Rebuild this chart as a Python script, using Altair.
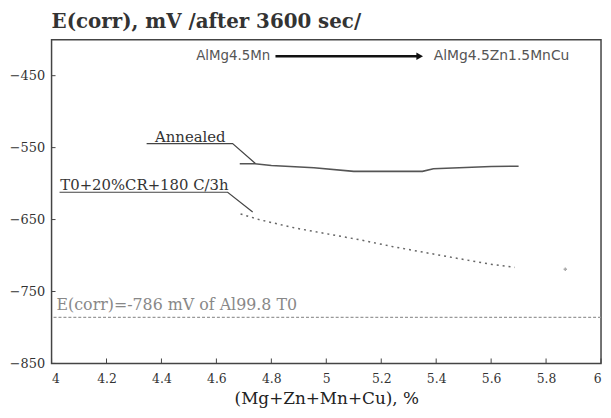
import altair as alt
import pandas as pd

# --- data ---
ann_x = [4.685, 4.74, 4.80, 4.955, 5.10, 5.35, 5.39, 5.60, 5.70]
ann_y = [-572.4, -572.4, -574.8, -577.9, -583.0, -583.0, -579.4, -576.2, -575.8]

cr_x = [4.688, 4.76, 4.883, 5.002, 5.121, 5.243, 5.362, 5.481, 5.604, 5.686]
cr_y = [-642.2, -650.5, -661.5, -669.8, -678.0, -687.7, -696.0, -704.2, -712.4, -716.5]

stray_x = [5.87]
stray_y = [-719.0]

ref_value = -786
x_ticks = [4.0, 4.2, 4.4, 4.6, 4.8, 5.0, 5.2, 5.4, 5.6, 5.8, 6.0]
y_ticks = [-450, -550, -650, -750, -850]

# label leader lines (underline + pointer), in data units
lead_group = ["a", "a", "a", "t", "t", "t"]
lead_x = [4.346, 4.659, 4.742, 4.029, 4.641, 4.732]
lead_y = [-544.5, -544.5, -572.0, -612.0, -612.0, -639.5]

lab_text = ["Annealed", "T0+20%CR+180 C/3h"]
lab_x = [4.505, 4.338]
lab_y = [-541.5, -608.5]

arrow_x = [4.815, 5.34]
arrow_y = -423
arrow_left = "AlMg4.5Mn"
arrow_right = "AlMg4.5Zn1.5MnCu"
ref_text = "E(corr)=-786 mV of Al99.8 T0"

W, H = 555, 327
SERIF = "DejaVu Serif"

xs = alt.Scale(domain=[4, 6], nice=False, zero=False)
ys = alt.Scale(domain=[-850, -400], nice=False, zero=False)

ann_df = pd.DataFrame({"x": ann_x, "y": ann_y, "i": range(len(ann_x))})
cr_df = pd.DataFrame({"x": cr_x, "y": cr_y, "i": range(len(cr_x))})
stray_df = pd.DataFrame({"x": stray_x, "y": stray_y})
lead_df = pd.DataFrame({"g": lead_group, "x": lead_x, "y": lead_y, "i": range(len(lead_x))})
lab_df = pd.DataFrame({"t": lab_text, "x": lab_x, "y": lab_y})
arrow_df = pd.DataFrame({"x": [arrow_x[0]], "x2": [arrow_x[1]], "y": [arrow_y]})
xt_df = pd.DataFrame({"x": x_ticks})
yt_df = pd.DataFrame({"y": y_ticks})

x_axis = alt.Axis(values=x_ticks, labelExpr="format(datum.value, '.1~f')", ticks=False,
                  domain=False, grid=False, labelPadding=9, labelFont=SERIF, labelFontSize=12.5,
                  labelColor="#333", title="(Mg+Zn+Mn+Cu), %", titleFont=SERIF, titleFontSize=17,
                  titleFontWeight="normal", titleColor="#222", titleBaseline="alphabetic",
                  titleY=40)
y_axis = alt.Axis(values=y_ticks, ticks=False, domain=False, grid=False, labelPadding=7,
                  labelFont=SERIF, labelFontSize=13, labelColor="#333", title=None)

X = alt.X("x:Q", scale=xs, axis=x_axis)
Y = alt.Y("y:Q", scale=ys, axis=y_axis)

annealed = alt.Chart(ann_df).mark_line(color="#555", strokeWidth=1.6).encode(x=X, y=Y, order="i:Q")

cr = alt.Chart(cr_df).mark_line(color="#666", strokeWidth=1.5, strokeDash=[2, 4]).encode(
    x=X, y=Y, order="i:Q"
)

stray = alt.Chart(stray_df).mark_point(shape="cross", size=12, color="#888", filled=True).encode(x=X, y=Y)

ref = alt.Chart(pd.DataFrame({"y": [ref_value]})).mark_rule(
    color="#999", strokeWidth=1.2, strokeDash=[3, 2]
).encode(y=Y)

ref_lab = alt.Chart(pd.DataFrame({"x": [4.018], "y": [-769.0], "t": [ref_text]})).mark_text(
    align="left", baseline="middle", font=SERIF, fontSize=16, color="#888"
).encode(x=X, y=Y, text="t:N")

leads = alt.Chart(lead_df).mark_line(color="#444", strokeWidth=1.2).encode(
    x=X, y=Y, detail="g:N", order="i:Q"
)

labels = alt.Chart(lab_df).mark_text(
    align="center", baseline="alphabetic", font=SERIF, fontSize=15, color="#333"
).encode(x=X, y=Y, text="t:N")

arrow_line = alt.Chart(arrow_df).mark_rule(color="#111", strokeWidth=2.5).encode(
    x=X, x2="x2:Q", y=Y
)
arrow_head = alt.Chart(arrow_df).mark_point(
    shape="triangle-right", size=60, color="#111", filled=True, opacity=1
).encode(x=alt.X("x2:Q", scale=xs, axis=x_axis), y=Y)

arrow_txt = alt.Chart(pd.DataFrame({
    "x": [4.796, 5.391], "y": [arrow_y, arrow_y], "t": [arrow_left, arrow_right], "a": ["r", "l"]
}))
arrow_l = arrow_txt.transform_filter("datum.a == 'r'").mark_text(
    align="right", baseline="middle", font="DejaVu Sans", fontSize=13.5, color="#555"
).encode(x=X, y=Y, text="t:N")
arrow_r = arrow_txt.transform_filter("datum.a == 'l'").mark_text(
    align="left", baseline="middle", font="DejaVu Sans", fontSize=14, color="#555"
).encode(x=X, y=Y, text="t:N")

# inward tick marks
xt = alt.Chart(xt_df).mark_rule(color="#444", strokeWidth=1).encode(
    x=X, y=alt.value(H), y2=alt.value(H - 5)
)
yt = alt.Chart(yt_df).mark_rule(color="#444", strokeWidth=1).encode(
    y=Y, x=alt.value(0), x2=alt.value(4)
)

chart = alt.layer(
    annealed, cr, stray, ref, ref_lab, leads, labels, arrow_line, arrow_head, arrow_l, arrow_r, xt, yt
).properties(
    width=W, height=H,
    title=alt.TitleParams("E(corr), mV /after 3600 sec/", anchor="start", frame="group",
                          font=SERIF, fontSize=20, fontWeight="bold", color="#333", offset=8),
    autosize=alt.AutoSizeParams(type="none"),
    padding={"left": 44, "top": 30, "right": 2, "bottom": 45},
    background="white",
).configure_view(stroke="#444", strokeWidth=1.5)

chart.save("out.html", embed_options={"renderer": "svg", "actions": False})
